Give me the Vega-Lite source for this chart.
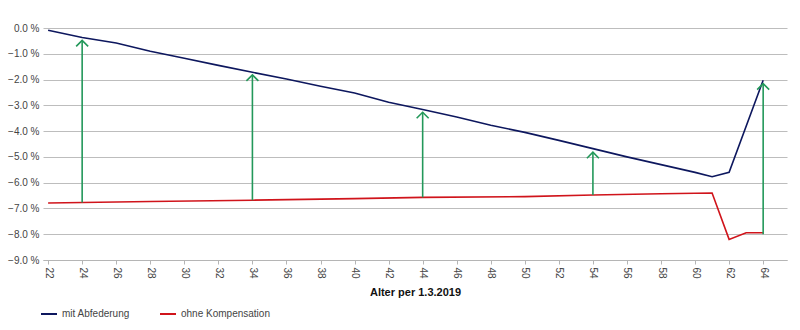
{
  "$schema": "https://vega.github.io/schema/vega-lite/v6.json",
  "width": 744,
  "height": 232,
  "autosize": {"type": "none"},
  "padding": {"left": 43, "top": 28, "right": 13, "bottom": 70},
  "background": "white",
  "config": {
    "view": {"stroke": null},
    "font": "Liberation Sans",
    "axis": {"labelFont": "Liberation Sans", "titleFont": "Liberation Sans", "labelOverlap": false},
    "legend": {"labelFont": "Liberation Sans"}
  },
  "datasets": {
    "lines": [
      {"age": 22, "value": -0.09, "series": "mit Abfederung"},
      {"age": 24, "value": -0.37, "series": "mit Abfederung"},
      {"age": 26, "value": -0.58, "series": "mit Abfederung"},
      {"age": 28, "value": -0.9, "series": "mit Abfederung"},
      {"age": 30, "value": -1.17, "series": "mit Abfederung"},
      {"age": 32, "value": -1.45, "series": "mit Abfederung"},
      {"age": 34, "value": -1.72, "series": "mit Abfederung"},
      {"age": 36, "value": -1.98, "series": "mit Abfederung"},
      {"age": 38, "value": -2.26, "series": "mit Abfederung"},
      {"age": 40, "value": -2.52, "series": "mit Abfederung"},
      {"age": 42, "value": -2.88, "series": "mit Abfederung"},
      {"age": 44, "value": -3.16, "series": "mit Abfederung"},
      {"age": 46, "value": -3.45, "series": "mit Abfederung"},
      {"age": 48, "value": -3.77, "series": "mit Abfederung"},
      {"age": 50, "value": -4.05, "series": "mit Abfederung"},
      {"age": 52, "value": -4.36, "series": "mit Abfederung"},
      {"age": 54, "value": -4.68, "series": "mit Abfederung"},
      {"age": 56, "value": -5.0, "series": "mit Abfederung"},
      {"age": 58, "value": -5.3, "series": "mit Abfederung"},
      {"age": 60, "value": -5.6, "series": "mit Abfederung"},
      {"age": 61, "value": -5.77, "series": "mit Abfederung"},
      {"age": 62, "value": -5.6, "series": "mit Abfederung"},
      {"age": 64, "value": -2.03, "series": "mit Abfederung"},
      {"age": 22, "value": -6.79, "series": "ohne Kompensation"},
      {"age": 28, "value": -6.73, "series": "ohne Kompensation"},
      {"age": 34, "value": -6.68, "series": "ohne Kompensation"},
      {"age": 40, "value": -6.62, "series": "ohne Kompensation"},
      {"age": 44, "value": -6.57, "series": "ohne Kompensation"},
      {"age": 50, "value": -6.54, "series": "ohne Kompensation"},
      {"age": 54, "value": -6.48, "series": "ohne Kompensation"},
      {"age": 58, "value": -6.43, "series": "ohne Kompensation"},
      {"age": 61, "value": -6.4, "series": "ohne Kompensation"},
      {"age": 62, "value": -8.2, "series": "ohne Kompensation"},
      {"age": 63, "value": -7.94, "series": "ohne Kompensation"},
      {"age": 64, "value": -7.94, "series": "ohne Kompensation"}
    ],
    "arrows": [
      {"age": 24, "from": -6.77, "value": -0.48},
      {"age": 34, "from": -6.68, "value": -1.82},
      {"age": 44, "from": -6.57, "value": -3.27},
      {"age": 54, "from": -6.48, "value": -4.82},
      {"age": 64, "from": -8.0, "value": -2.16}
    ]
  },
  "encoding": {
    "x": {
      "field": "age", "type": "quantitative",
      "scale": {"domain": [21.7, 65.4], "nice": false, "zero": false},
      "axis": {
        "values": [22, 24, 26, 28, 30, 32, 34, 36, 38, 40, 42, 44, 46, 48, 50, 52, 54, 56, 58, 60, 62, 64],
        "grid": false,
        "labelOverlap": false,
        "labelBound": false,
        "labelFlush": false,
        "domainColor": "#b5b5b5",
        "tickColor": "#b5b5b5",
        "tickSize": 4,
        "labelAngle": 90,
        "labelAlign": "left",
        "labelBaseline": "middle",
        "labelPadding": 3,
        "labelFontSize": 10,
        "labelColor": "#444444",
        "title": "Alter per 1.3.2019",
        "titleFontSize": 11,
        "titleFontWeight": "bold",
        "titleColor": "#111111",
        "titlePadding": 8
      }
    },
    "y": {
      "field": "value", "type": "quantitative",
      "scale": {"domain": [-9, 0], "nice": false},
      "axis": {
        "values": [0, -1, -2, -3, -4, -5, -6, -7, -8, -9],
        "labelExpr": "format(datum.value, '.1f') + ' %'",
        "labelOverlap": false,
        "labelBound": false,
        "labelFlush": false,
        "domain": false,
        "ticks": false,
        "gridColor": "#bdbdbd",
        "gridWidth": 1,
        "labelFontSize": 10,
        "labelColor": "#444444",
        "labelPadding": 4,
        "title": null
      }
    }
  },
  "layer": [
    {
      "data": {"name": "lines"},
      "mark": {"type": "line", "strokeWidth": 1.6},
      "encoding": {
        "color": {
          "field": "series", "type": "nominal",
          "scale": {"domain": ["mit Abfederung", "ohne Kompensation"], "range": ["#0d175e", "#d0141b"]},
          "legend": {
            "orient": "none",
            "legendX": -3,
            "legendY": 277,
            "direction": "horizontal",
            "title": null,
            "symbolType": "stroke",
            "symbolStrokeWidth": 2,
            "symbolSize": 256,
            "labelFontSize": 10,
            "labelColor": "#444444",
            "columnPadding": 26
          }
        }
      }
    },
    {
      "data": {"name": "arrows"},
      "mark": {"type": "rule", "color": "#23985a", "strokeWidth": 1.6},
      "encoding": {
        "y2": {"field": "from"}
      }
    },
    {
      "data": {"name": "arrows"},
      "mark": {"type": "point", "shape": "M-1,1L0,0L1,1", "filled": false, "stroke": "#23985a", "strokeWidth": 1.6, "size": 144, "opacity": 1},
      "encoding": {}
    }
  ]
}
